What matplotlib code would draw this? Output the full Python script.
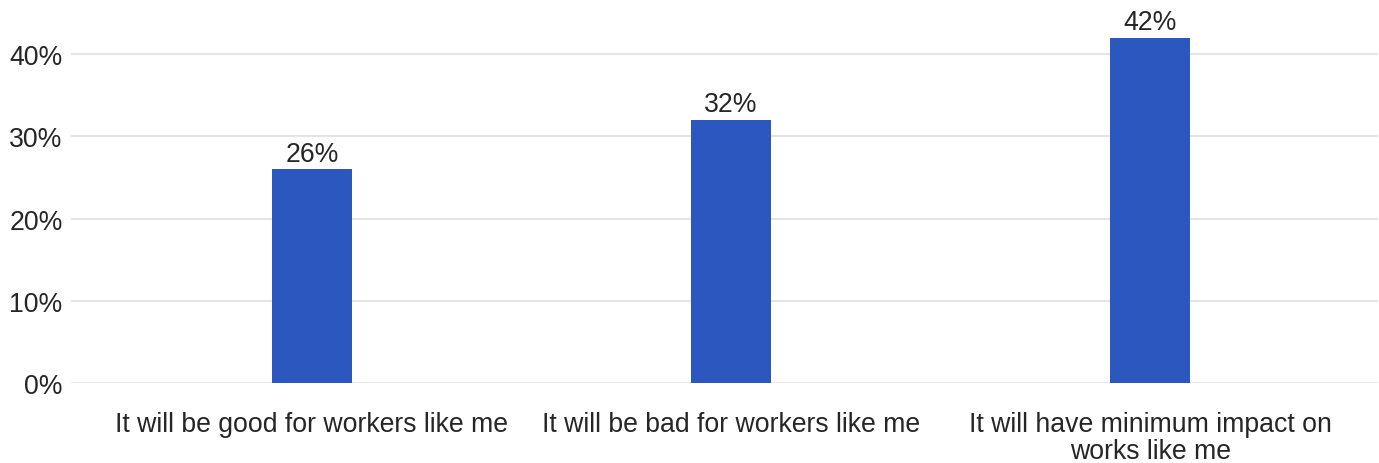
import matplotlib
matplotlib.use("Agg")
import matplotlib.pyplot as plt
from matplotlib.ticker import FuncFormatter

categories = [
    "It will be good for workers like me",
    "It will be bad for workers like me",
    "It will have minimum impact on\nworks like me",
]
shares = [26, 32, 42]
y_ticks = [0, 10, 20, 30, 40]

bar_color = "#2B57BE"
text_color = "#262626"
grid_color = "#E5E5E5"

plt.rcParams["font.family"] = ["Liberation Sans", "DejaVu Sans"]

fig = plt.figure(figsize=(13.79, 4.64), dpi=100)
ax = fig.add_axes([0.0515, 0.1715, 0.9478, 0.816])

x = list(range(len(categories)))
bars = ax.bar(x, shares, width=0.191, color=bar_color, zorder=3)

# value labels above each bar
for rect, val in zip(bars, shares):
    ax.annotate(f"{val}%", (rect.get_x() + rect.get_width() / 2, val),
                xytext=(0, 2), textcoords="offset points",
                ha="center", va="bottom", fontsize=19.2, color=text_color)

ax.set_xlim(-0.575, 2.544)
ax.set_ylim(0, 46)
ax.set_yticks(y_ticks)
ax.yaxis.set_major_formatter(FuncFormatter(lambda v, p: f"{v:.0f}%"))
ax.set_xticks(x)
ax.set_xticklabels(categories, linespacing=1.05)

ax.grid(axis="y", color=grid_color, linewidth=1.5, zorder=0)
ax.tick_params(axis="y", length=0, pad=6, labelsize=19.2, labelcolor=text_color)
ax.tick_params(axis="x", length=0, pad=20, labelsize=19.2, labelcolor=text_color)
for side in ["top", "right", "left", "bottom"]:
    ax.spines[side].set_visible(False)

fig.savefig("out.png", dpi=100)
